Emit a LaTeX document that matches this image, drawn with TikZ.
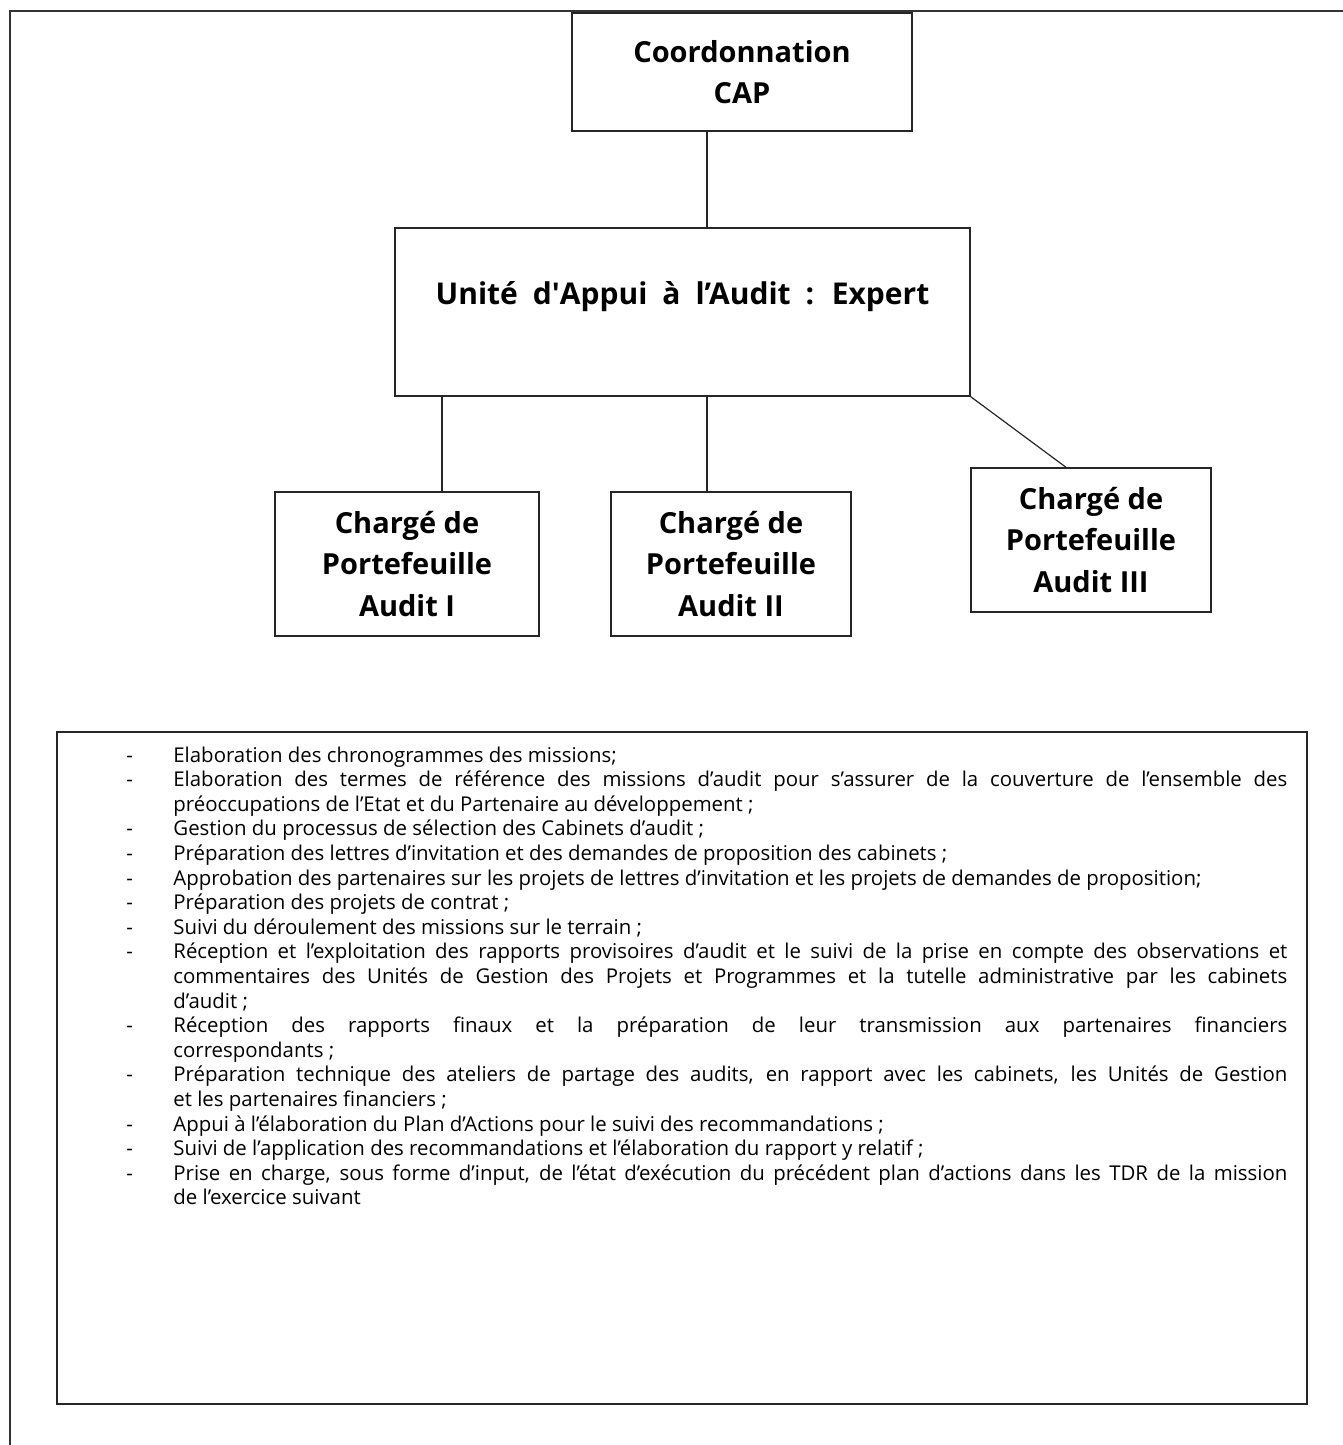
\documentclass[tikz,border=0pt]{standalone}
\usepackage{fontspec}
\setmainfont{Open Sans}
\newcommand\widewordgap{\spaceskip=0.5em\relax}
\begin{document}
\begin{tikzpicture}[x=0.5pt,y=-0.5pt,
  framerule/.style={draw=black!80, line width=1pt},
  orgbox/.style={draw=black!85, line width=0.7pt, rectangle, inner sep=0pt, align=center,
    font=\bfseries\fontsize{14.5}{20.75}\selectfont},
  headtext/.style={font=\bfseries\fontsize{15}{20.75}\selectfont, align=center, inner sep=0pt},
  itemline/.style={font=\fontsize{10.2}{12.4}\selectfont, anchor=base west, inner sep=0pt},
  link/.style={draw=black!85, line width=0.6pt}]
\useasboundingbox (0,0) rectangle (1343,1445);

% page frame (only top and left edges fall inside the page)
\coordinate (frameBL) at (9.5,1445);
\coordinate (frameTL) at (9.5,11);
\coordinate (frameTR) at (1343,11);
\draw[framerule] (frameBL) -- (frameTL) -- (frameTR);

% organisation chart
\node[orgbox, minimum width=170pt, minimum height=59pt] (cap) at (742,72)
  {Coordonnation\\CAP};
\node[orgbox, minimum width=287.5pt, minimum height=84pt] (unite) at (682.5,312) {};
\node[headtext] (unitelabel) at (682.5,297)
  {\widewordgap Unité d\textquotesingle Appui à l’Audit : Expert};
\node[orgbox, minimum width=132pt, minimum height=72pt] (c1) at (407,564)
  {Chargé de\\Portefeuille\\Audit I};
\node[orgbox, minimum width=120pt, minimum height=72pt] (c2) at (731,564)
  {Chargé de\\Portefeuille\\Audit II};
\node[orgbox, minimum width=120pt, minimum height=72pt] (c3) at (1091,540)
  {Chargé de\\Portefeuille\\Audit III};

% connectors
\coordinate (trunk) at (707,0);
\coordinate (branchA) at (442,0);
\coordinate (branchC) at (1066,0);
\draw[link] (cap.south -| trunk) -- (unite.north -| trunk);
\draw[link] (unite.south -| branchA) -- (c1.north -| branchA);
\draw[link] (unite.south -| trunk) -- (c2.north -| trunk);
\draw[link] (unite.south east) -- (c3.north -| branchC);

% task list
\node[orgbox, minimum width=625pt, minimum height=336pt] (tasks) at (682,1068) {};

\def\firstbase{762}
\def\linestep{24.6}
\foreach \i in {1,2,4,5,6,7,8,9,12,14,16,17,18}
  \node[itemline] (dash\i) at (126,{\firstbase+(\i-1)*\linestep}) {-};

\def\jl#1{\makebox[557pt][s]{#1}}
\foreach \i/\txt in {
  1/{Elaboration des chronogrammes des missions;},
  2/{\jl{Elaboration des termes de référence des missions d’audit pour s’assurer de la couverture de l’ensemble des}},
  3/{préoccupations de l’Etat et du Partenaire au développement ;},
  4/{Gestion du processus de sélection des Cabinets d’audit ;},
  5/{Préparation des lettres d’invitation et des demandes de proposition des cabinets ;},
  6/{Approbation des partenaires sur les projets de lettres d’invitation et les projets de demandes de proposition;},
  7/{Préparation des projets de contrat ;},
  8/{Suivi du déroulement des missions sur le terrain ;},
  9/{\jl{Réception et l’exploitation des rapports provisoires d’audit et le suivi de la prise en compte des observations et}},
  10/{\jl{commentaires des Unités de Gestion des Projets et Programmes et la tutelle administrative par les cabinets}},
  11/{d’audit ;},
  12/{\jl{Réception des rapports finaux et la préparation de leur transmission aux partenaires financiers}},
  13/{correspondants ;},
  14/{\jl{Préparation technique des ateliers de partage des audits, en rapport avec les cabinets, les Unités de Gestion}},
  15/{et les partenaires financiers ;},
  16/{Appui à l’élaboration du Plan d’Actions pour le suivi des recommandations ;},
  17/{Suivi de l’application des recommandations et l’élaboration du rapport y relatif ;},
  18/{\jl{Prise en charge, sous forme d’input, de l’état d’exécution du précédent plan d’actions dans les TDR de la mission}},
  19/{de l’exercice suivant}}
  \node[itemline] (line\i) at (173,{\firstbase+(\i-1)*\linestep}) {\txt};
\end{tikzpicture}
\end{document}
